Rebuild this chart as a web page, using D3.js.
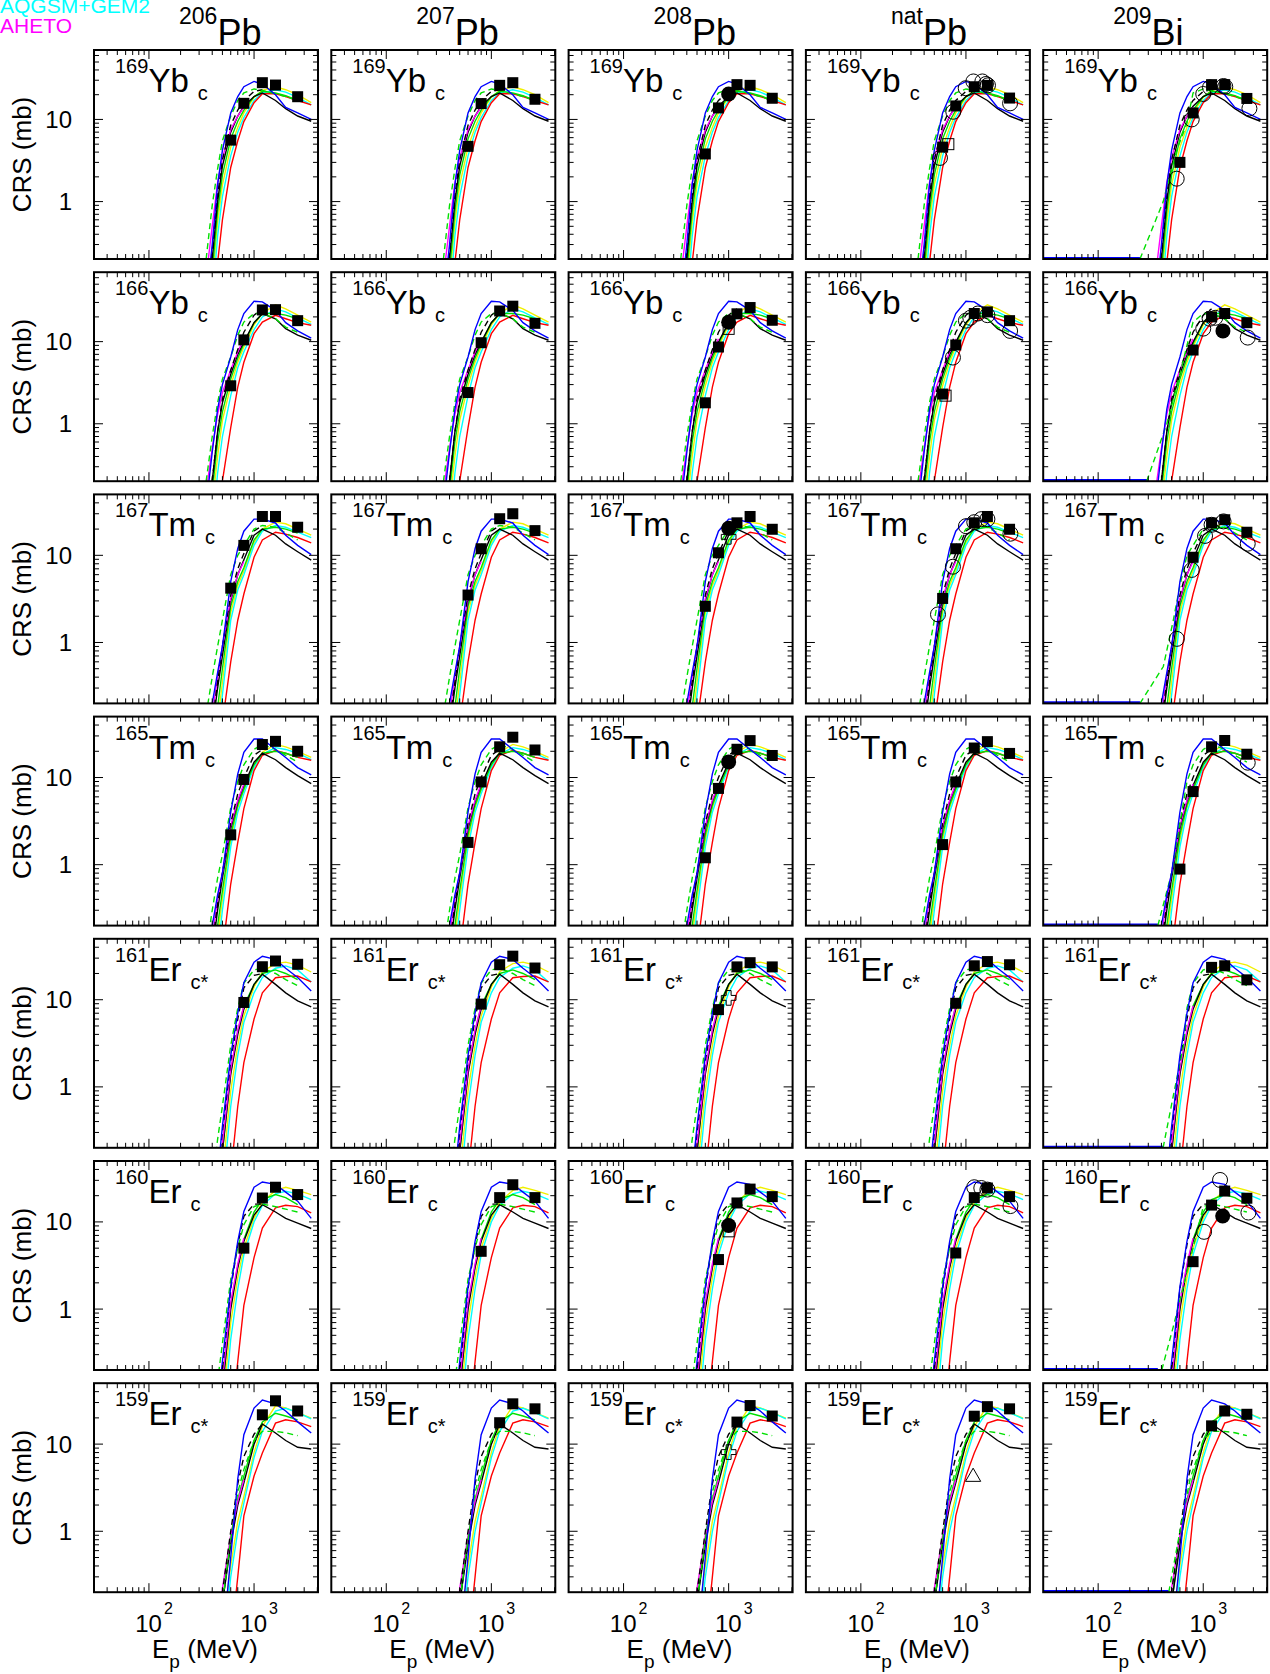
<!DOCTYPE html>
<html><head><meta charset="utf-8">
<script src="https://cdn.jsdelivr.net/npm/d3@7"></script>
<style>
body{margin:0;background:#fff}
text{font-family:"Liberation Sans",Arial,sans-serif}
</style>
</head><body>
<svg id="chart" width="1270" height="1674"></svg>
<script>
// ---------- labels ----------
const targetMass = ["206","207","208","nat","209"];
const targetElem = ["Pb","Pb","Pb","Pb","Bi"];
const productMass = ["169","166","167","165","161","160","159"];
const productElem = ["Yb","Yb","Tm","Tm","Er","Er","Er"];
const productType = ["c","c","c","c","c*","c","c*"];
const yTopMb = [70,70,50,50,50,50,50];
const legendNames = ["AQGSM+GEM2","AHETO"];

// ---------- model curves (mb) on a common energy grid (MeV) ----------
const modelE = [350,400,450,500,600,700,800,1000,1200,1600,2000,2600,3500];
const blueCRS = [
 [0.06,0.3,1.6,4.2,12,19,25,29,27,20,14,12,10],
 [0.1,0.45,1.5,3.0,6.5,14,22,31,30.5,24,17,13.5,11],
 [0.05,0.2,0.45,0.9,5,12,18.9,26,26,23.5,17,13,10.2],
 [0.05,0.2,0.45,0.8,4,11,19.5,27.7,27.7,21,17,13,10.7],
 [null,0.03,0.1,0.35,2.3,7,15.7,27,31.5,29,23,18,12.6],
 [null,0.02,0.07,0.25,1.8,6,13.2,25,28.7,27,22,17.3,11],
 [null,null,null,0.05,0.5,4,12.8,25.9,32,29,24,18,13.4]
];
const greenDashCRS = [
 [0.2,0.9,2.5,5.5,11,17,21,23.5,22.5,20.5,19,17,null],
 [0.2,0.7,1.8,3.5,6.5,12,17.3,22,22,19,15,13,null],
 [0.15,0.4,0.9,1.8,6,10,13,20,22,21,18,15,null],
 [0.1,0.3,0.7,1.3,4.5,9,14,21,24,21,18,15,null],
 [null,0.08,0.25,0.6,3,8,15.5,22,23,20,17,14.5,null],
 [null,0.05,0.15,0.4,2.2,5,9.3,15,16,15,14,13,null],
 [null,null,0.02,0.15,0.8,2.8,5.1,11,14,14,13.5,12.5,null]
];
const blackDashCRS = [
 [0.05,0.25,1.2,3.2,8.5,13,17,22,23,null,null,null,null],
 [0.05,0.2,0.8,2,4.5,8,13,21,25,null,null,null,null],
 [0.03,0.12,0.35,0.9,3.5,7,10.5,19,22,null,null,null,null],
 [0.03,0.12,0.35,0.8,3,6.5,10,18,21,null,null,null,null],
 [null,0.03,0.1,0.3,2,6,13.7,19,20,null,null,null,null],
 [null,0.02,0.07,0.2,1.7,5.5,11.6,16,16,null,null,null,null],
 [null,null,0.03,0.2,1.0,3.5,7.2,13,17,null,null,null,null]
];
const magentaCRS = [
 [0.12,0.5,1.7,3.4,7.5,11,14,null,null,null,null,null,null],
 [0.15,0.5,1.3,2.4,4.5,7.5,10.8,null,null,null,null,null,null],
 [0.04,0.15,0.4,0.9,3.2,6,8.5,null,null,null,null,null,null],
 [0.04,0.15,0.4,0.8,2.8,5.5,8.4,null,null,null,null,null,null],
 [null,0.02,0.07,0.22,1.6,4.5,8.5,null,null,null,null,null,null],
 [null,0.01,0.05,0.15,1.2,3.3,6.5,null,null,null,null,null,null],
 [null,null,0.04,0.22,0.9,2.2,3.9,null,null,null,null,null,null]
];
const blackCRS = [
 [0.04,0.2,1.0,2.7,7,11,14.5,19,21,17,13.5,11,9.5],
 [0.05,0.2,0.8,1.8,4,7,9.9,17,22,19,14.4,12,10.4],
 [0.02,0.1,0.3,0.7,3,6,8.9,17,20,17,13.5,11,8.8],
 [0.02,0.1,0.3,0.7,2.6,5.3,8.1,15,19,16,13,10.5,8.5],
 [null,0.015,0.05,0.18,1.4,4,7.8,15,19.6,15,12,9.7,8.3],
 [null,0.01,0.04,0.12,1.0,3,6,12,15.8,13,11,9.7,8.4],
 [null,null,0.02,0.15,0.7,2,3.6,10,17,13.4,11,9.2,8.8]
];
const greenCRS = [
 [0.03,0.14,0.75,2.1,5.8,9.5,13,19,22,21,19.5,17,null],
 [0.03,0.15,0.6,1.4,3.5,6.3,9.4,17,21.9,22,21,19,null],
 [0.01,0.05,0.18,0.5,2.6,5,7.2,15,20,21,20,18,null],
 [0.01,0.06,0.2,0.5,2.2,4.8,7.4,14,19,20,19,17,null],
 [null,0.015,0.05,0.18,1.5,4.3,8.5,15,20,22,20,17,null],
 [null,0.01,0.04,0.12,1.1,3.1,6.3,13,18,20.6,19,15.8,null],
 [null,null,0.02,0.15,0.8,2.3,4.3,11,18,22.6,21,19,null]
];
const yellowCRS = [
 [0.02,0.1,0.55,1.6,4.6,8,12,18.5,22.5,25,23,20,16],
 [0.02,0.1,0.4,1.1,2.9,5.6,8.6,16,22,28,25,21,17.3],
 [0.005,0.03,0.12,0.35,2.2,4.5,6.6,14,20,24,23,20,17],
 [0.008,0.04,0.15,0.4,1.9,4.5,7.1,14,19.5,24,22.5,20,17],
 [null,0.008,0.03,0.1,0.9,3,6.5,14,21,26,27,25,20.8],
 [null,0.005,0.02,0.07,0.7,2.3,5,11,17,23,25,23,20.6],
 [null,null,0.01,0.07,0.4,1.3,2.5,8,16,27.5,26,23,19.9]
];
const cyanCRS = [
 [0.01,0.06,0.38,1.15,3.6,7,10.5,17,21,23,21.5,18.5,15],
 [0.01,0.05,0.25,0.7,2.2,4.8,7.5,14,20,25,23,19.5,16.2],
 [0.003,0.02,0.08,0.25,1.8,4,6,13,19,22,21,18.5,16],
 [0.005,0.03,0.1,0.3,1.6,4,6.5,13,18.5,22,21,19,16],
 [null,0.005,0.02,0.06,0.6,2.3,5.5,12,18,23,24.4,22,16],
 [null,0.003,0.012,0.04,0.45,1.7,4.2,10,15.5,21,22.5,21,18],
 [null,null,0.005,0.04,0.3,1.0,2.1,7,14,24,25.8,23,19.5]
];
const redCRS = [
 [0.005,0.03,0.18,0.6,2.6,5.5,9.4,16,20.5,20.5,19,17,15],
 [0.003,0.015,0.07,0.2,0.9,2.8,5.6,12.5,17.3,20.9,19,17,15.8],
 [0.001,0.005,0.03,0.12,0.6,1.8,3.6,9.5,15,18.4,17.5,16,13.9],
 [0.001,0.005,0.03,0.1,0.6,1.8,4.4,12,18,20.4,19,17,15.8],
 [null,null,0.003,0.01,0.1,0.6,1.9,6,12,17.9,18.5,18.7,16],
 [null,null,0.002,0.006,0.04,0.25,1.1,3.9,8.5,14.5,15.5,15,12.7],
 [null,null,null,0.005,0.05,0.3,1.5,4.3,7.9,17.4,19,18,15.9]
];
// 209Bi: low-energy green dashed tail [E, mb] and end of the zero-valued (blue) part
const biGreenDashTail = [
 [[250,0.2],[416,1.0],[559,4.2],[700,9]],
 [[290,0.2],[450,1.0],[600,4],[700,9]],
 [[250,0.2],[417,0.53],[519,1.8],[600,4.5]],
 [[370,0.2],[500,0.8],[600,3]],
 [[415,0.2],[520,0.8],[650,3]],
 [[403,0.2],[519,0.63],[697,2.6],[898,8.8]],
 [[470,0.2],[600,1],[750,4]]
];
const biZeroEnd = [250,300,250,370,415,370,470];

// ---------- experimental data ----------
const expE = [600,800,1200,1600,2600];
const squaresCRS = [
 [[5.6,15.7,28,26.2,18.9],[4.7,15.6,26,28,17.6],[3.8,13.8,26.5,26,18.1],[4.6,14.6,25,26,18.2],[3.0,12,26.5,26.5,18]],
 [[2.9,10.5,24.3,24.5,18],[2.4,9.7,23.6,27,16.7],[1.8,8.6,21.8,26,18.2],[2.3,9.1,22,23,18],[null,7.9,20,22,17]],
 [[4.2,13,27.9,27.9,21],[3.5,11.9,26.3,30,19.2],[2.6,10.7,23.6,27.9,19.9],[3.2,11.9,23.6,27.9,19.9],[null,9.5,23.5,25.6,18.4]],
 [[2.2,9.5,23.9,26,20],[1.8,8.9,22.5,29,20.7],[1.2,7.5,21.1,26.5,17.9],[1.7,8.9,21.8,25.8,18.9],[0.89,6.9,22.5,26.6,18.5]],
 [[null,9.3,23.9,27.8,25.5],[null,8.9,25.2,31.6,23.1],[null,7.7,23.8,26.6,23.8],[null,9.1,24.5,27.4,25.2],[null,null,23.5,24.5,16.9]],
 [[null,5.0,18.8,25,20.6],[null,4.6,19,26.7,19],[null,3.7,16.5,23.8,19.5],[null,4.4,19,24.5,19.5],[null,3.5,15.6,22.6,18.7]],
 [[null,null,21.7,31.4,24],[null,null,17.6,29,25.4],[null,null,17.9,27.7,21],[null,null,20.9,26.9,25.4],[null,null,16.2,24,22]]
];
// other data sets: [row, col, E, mb]
const openCircles = [
 [0,3,566,3.4],[0,3,758,12.4],[0,3,995,24],[0,3,1177,29],[0,3,1433,29],[0,3,1550,27],[0,3,1620,26],[0,3,2630,15.7],
 [0,4,559,1.9],[0,4,777,10],[0,4,1000,20.4],[0,4,1160,24.5],[0,4,1555,25.5],[0,4,1620,25],[0,4,2750,13.6],
 [1,3,752,6.4],[1,3,1000,18],[1,3,1100,19.5],[1,3,1300,22],[1,3,1600,21],[1,3,2630,13.5],
 [1,4,1000,14.4],[1,4,1150,19],[1,4,1300,19.5],[1,4,2650,11.2],
 [2,3,542,2.1],[2,3,752,7.4],[2,3,1000,21.6],[2,3,1200,24],[2,3,1400,26],[2,3,1600,26],[2,3,2650,17.7],
 [2,4,560,1.1],[2,4,777,6.8],[2,4,1040,16.7],[2,4,1200,22.4],[2,4,1560,24.5],[2,4,2650,13.6],
 [3,4,2650,14.8],
 [5,3,1200,25],[5,3,1400,24.5],[5,3,1600,23.5],[5,3,2650,15.2],
 [5,4,1018,7.7],[5,4,1445,30.3],[5,4,2690,12.8]
];
const filledCircles = [[0,2,1000,20.4],[1,2,1000,17.2],[2,2,1000,20.4],[3,2,1000,15.1],[5,2,1000,9.1],[1,4,1540,13.5],[5,4,1530,11.7]];
const openSquares = [[0,3,680,5.0],[1,3,640,2.2],[1,2,1000,14.3],[5,2,1000,7.8]];
const openCrosses = [[4,2,1000,10.5],[6,2,1000,8.1],[2,2,1000,16.3]];
const openTriangles = [[6,3,1170,4.2]];

// ---------- layout ----------
const W = 224, H = 209, X0 = 94, Y0 = 50, DX = 237.3, DY = 222.2;
const svg = d3.select("#chart");
const x = d3.scaleLog().domain([30,4060]).range([0,W]);

const models = [
 {data:yellowCRS, color:"#f0f000", dash:null},
 {data:cyanCRS, color:"#00ffff", dash:null},
 {data:redCRS, color:"#ff0000", dash:null},
 {data:greenCRS, color:"#00e000", dash:null},
 {data:blackCRS, color:"#000000", dash:null},
 {data:magentaCRS, color:"#ff00ff", dash:null},
 {data:blackDashCRS, color:"#000000", dash:"6,4"},
 {data:greenDashCRS, color:"#00e000", dash:"6,4", bi:true},
 {data:blueCRS, color:"#0000ff", dash:null}
];

svg.append("defs").append("clipPath").attr("id","pc")
  .append("rect").attr("x",0).attr("y",0).attr("width",W).attr("height",H);

// legend (partly above the page)
svg.append("text").attr("x",0).attr("y",13).attr("font-size",21).attr("fill","#00ffff").text(legendNames[0]);
svg.append("text").attr("x",0).attr("y",33).attr("font-size",21).attr("fill","#ff00ff").text(legendNames[1]);

// column headers
targetMass.forEach((m,c) => {
  const t = svg.append("text").attr("x", X0 + c*DX + (c===4 ? 70 : 85));
  t.append("tspan").attr("y",24).attr("font-size",23).text(m);
  t.append("tspan").attr("y",45).attr("font-size",36).text(targetElem[c]);
});

productMass.forEach((pm, r) => {
  const y = d3.scaleLog().domain([0.2, yTopMb[r]]).range([H,0]);
  const line = d3.line().defined(d => d[1] != null).x(d => x(d[0])).y(d => y(d[1]));
  targetMass.forEach((tm, c) => {
    const g = svg.append("g").attr("transform", `translate(${X0 + c*DX},${Y0 + r*DY})`);
    const inner = g.append("g").attr("clip-path","url(#pc)");
    if (c === 4) {
      inner.append("line").attr("x1",0).attr("x2",x(biZeroEnd[r])).attr("y1",H-1).attr("y2",H-1)
        .attr("stroke","#0000ff").attr("stroke-width",2.2);
    }
    models.forEach(m => {
      let pts = modelE.map((e,i) => [e, m.data[r][i]]);
      if (m.bi && c === 4) {
        const tail = biGreenDashTail[r];
        const last = tail[tail.length-1][0];
        pts = tail.concat(pts.filter(p => p[0] > last));
      }
      inner.append("path").attr("d", line(pts)).attr("fill","none")
        .attr("stroke", m.color).attr("stroke-width",1.4)
        .attr("stroke-dasharray", m.dash);
    });
    // ticks
    const tk = g.append("g").attr("stroke","#000").attr("stroke-width",1);
    x.ticks().forEach(v => {
      if (v <= 30 || v >= 4060) return;
      const major = Math.abs(Math.log10(v) - Math.round(Math.log10(v))) < 1e-9;
      const L = major ? 9 : 5;
      tk.append("line").attr("x1",x(v)).attr("x2",x(v)).attr("y1",H).attr("y2",H-L);
      tk.append("line").attr("x1",x(v)).attr("x2",x(v)).attr("y1",0).attr("y2",L);
    });
    y.ticks().forEach(v => {
      if (v <= 0.2 || v >= yTopMb[r]) return;
      const major = Math.abs(Math.log10(v) - Math.round(Math.log10(v))) < 1e-9;
      const L = major ? 9 : 5;
      tk.append("line").attr("x1",0).attr("x2",L).attr("y1",y(v)).attr("y2",y(v));
      tk.append("line").attr("x1",W).attr("x2",W-L).attr("y1",y(v)).attr("y2",y(v));
    });
    g.append("rect").attr("width",W).attr("height",H).attr("fill","none")
      .attr("stroke","#000").attr("stroke-width",2);

    // experimental points
    const mk = g.append("g");
    openCircles.filter(d => d[0]===r && d[1]===c).forEach(d => {
      mk.append("circle").attr("cx",x(d[2])).attr("cy",y(d[3])).attr("r",7.5)
        .attr("fill","none").attr("stroke","#000").attr("stroke-width",1);
    });
    openSquares.filter(d => d[0]===r && d[1]===c).forEach(d => {
      mk.append("rect").attr("x",x(d[2])-5.5).attr("y",y(d[3])-5.5).attr("width",11).attr("height",11)
        .attr("fill","none").attr("stroke","#000").attr("stroke-width",1);
    });
    openCrosses.filter(d => d[0]===r && d[1]===c).forEach(d => {
      mk.append("path").attr("d", d3.symbol(d3.symbolCross, 120)())
        .attr("transform",`translate(${x(d[2])},${y(d[3])})`)
        .attr("fill","none").attr("stroke","#000").attr("stroke-width",1);
    });
    openTriangles.filter(d => d[0]===r && d[1]===c).forEach(d => {
      mk.append("path").attr("d", d3.symbol(d3.symbolTriangle, 100)())
        .attr("transform",`translate(${x(d[2])},${y(d[3])})`)
        .attr("fill","none").attr("stroke","#000").attr("stroke-width",1);
    });
    squaresCRS[r][c].forEach((v,i) => {
      if (v == null) return;
      mk.append("rect").attr("x",x(expE[i])-5.5).attr("y",y(v)-5.5).attr("width",11).attr("height",11)
        .attr("fill","#000");
    });
    filledCircles.filter(d => d[0]===r && d[1]===c).forEach(d => {
      mk.append("circle").attr("cx",x(d[2])).attr("cy",y(d[3])).attr("r",7.5).attr("fill","#000");
    });

    // product label
    const lab = g.append("text").attr("x",21);
    lab.append("tspan").attr("y",23).attr("font-size",20).text(pm);
    lab.append("tspan").attr("y",42).attr("font-size",33).text(productElem[r]);
    lab.append("tspan").attr("y",50).attr("dx",9).attr("font-size",20).text(productType[r]);

    if (c === 0) {
      [1,10].forEach(v => {
        g.append("text").attr("x",-22).attr("y",y(v)+8.5).attr("text-anchor","end")
          .attr("font-size",24).text(String(v));
      });
      g.append("text").attr("transform",`translate(-63,${H/2}) rotate(-90)`)
        .attr("text-anchor","middle").attr("font-size",26).text("CRS (mb)");
    }
    if (r === productMass.length - 1) {
      [[100,"2"],[1000,"3"]].forEach(([v,p]) => {
        g.append("text").attr("x",x(v)+13).attr("y",H+40).attr("text-anchor","end")
          .attr("font-size",24).text("10");
        g.append("text").attr("x",x(v)+15).attr("y",H+22).attr("font-size",16).text(p);
      });
      const xt = g.append("text").attr("x",58).attr("y",H+66).attr("font-size",26);
      xt.append("tspan").text("E");
      xt.append("tspan").attr("dy",10).attr("font-size",19).text("p");
      xt.append("tspan").attr("dy",-10).text(" (MeV)");
    }
  });
});
</script>
</body></html>
